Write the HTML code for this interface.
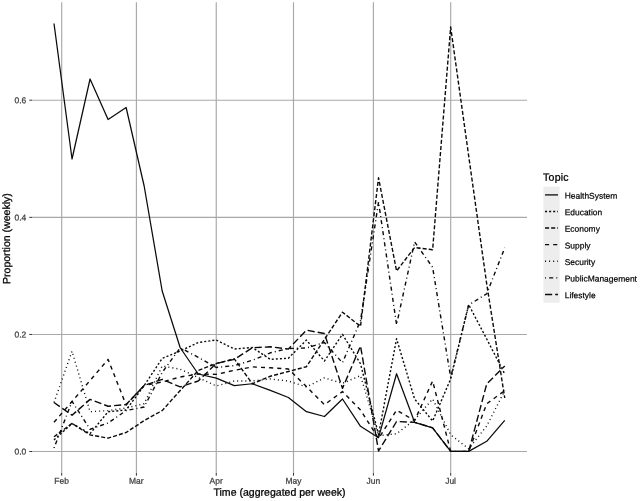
<!DOCTYPE html>
<html><head><meta charset="utf-8"><title>Topic proportions</title>
<style>html,body{margin:0;padding:0;background:#fff}svg{display:block}</style></head>
<body>
<svg width="640" height="501" viewBox="0 0 640 501">
<rect width="640" height="501" fill="#ffffff"/>
<g stroke="#a8a8a8" stroke-width="1.15" fill="none">
<line x1="32.0" y1="451.5" x2="527.0" y2="451.5"/>
<line x1="32.0" y1="334.45" x2="527.0" y2="334.45"/>
<line x1="32.0" y1="217.35" x2="527.0" y2="217.35"/>
<line x1="32.0" y1="100.2" x2="527.0" y2="100.2"/>
<line x1="61.7" y1="2.3" x2="61.7" y2="473.0"/>
<line x1="136.4" y1="2.3" x2="136.4" y2="473.0"/>
<line x1="216.25" y1="2.3" x2="216.25" y2="473.0"/>
<line x1="293.5" y1="2.3" x2="293.5" y2="473.0"/>
<line x1="373.4" y1="2.3" x2="373.4" y2="473.0"/>
<line x1="450.7" y1="2.3" x2="450.7" y2="473.0"/>
</g>
<g stroke="#333333" stroke-width="1.0" fill="none">
<line x1="29.3" y1="451.5" x2="32.0" y2="451.5"/>
<line x1="29.3" y1="334.45" x2="32.0" y2="334.45"/>
<line x1="29.3" y1="217.35" x2="32.0" y2="217.35"/>
<line x1="29.3" y1="100.2" x2="32.0" y2="100.2"/>
<line x1="61.7" y1="473.0" x2="61.7" y2="475.7"/>
<line x1="136.4" y1="473.0" x2="136.4" y2="475.7"/>
<line x1="216.25" y1="473.0" x2="216.25" y2="475.7"/>
<line x1="293.5" y1="473.0" x2="293.5" y2="475.7"/>
<line x1="373.4" y1="473.0" x2="373.4" y2="475.7"/>
<line x1="450.7" y1="473.0" x2="450.7" y2="475.7"/>
</g>
<g stroke="#0a0a0a" stroke-width="1.4" fill="none" stroke-linejoin="round" stroke-linecap="butt">
<polyline points="54.00,23.50 72.03,159.00 90.06,79.00 108.09,119.50 126.12,107.50 144.15,186.00 162.18,291.00 180.21,347.75 198.24,374.00 216.27,378.10 234.30,385.60 252.33,383.75 270.36,390.30 288.39,397.50 306.42,411.70 324.45,416.50 342.48,399.00 360.51,426.30 378.54,437.70 396.57,373.75 414.60,422.30 432.63,427.80 450.66,451.40 468.69,451.40 486.72,441.30 504.75,420.30" stroke-width="1.25"/>
<polyline points="54.00,439.90 72.03,423.50 90.06,433.60 108.09,411.75 126.12,410.00 144.15,385.60 162.18,358.40 180.21,351.00 198.24,342.50 216.27,340.00 234.30,349.00 252.33,347.50 270.36,359.40 288.39,358.20 306.42,340.10 324.45,361.00 342.48,334.30 360.51,363.75 378.54,434.70 396.57,338.75 414.60,399.00 432.63,421.00 450.66,379.00 468.69,304.70 486.72,339.00 504.75,374.00" stroke-dasharray="2.04 2.04"/>
<polyline points="54.00,436.75 72.03,423.40 90.06,434.90 108.09,438.10 126.12,432.50 144.15,420.60 162.18,410.60 180.21,390.50 198.24,370.50 216.27,363.50 234.30,358.80 252.33,383.75 270.36,376.25 288.39,371.50 306.42,366.70 324.45,339.40 342.48,312.20 360.51,326.30 378.54,177.80 396.57,271.00 414.60,247.50 432.63,249.75 450.66,27.00 468.69,156.00 486.72,284.00 504.75,398.00" stroke-dasharray="4.08 2.04"/>
<polyline points="54.00,422.30 72.03,401.50 90.06,380.50 108.09,359.40 126.12,405.00 144.15,385.50 162.18,382.00 180.21,377.00 198.24,374.00 216.27,374.40 234.30,370.30 252.33,366.90 270.36,367.80 288.39,369.00 306.42,386.60 324.45,404.70 342.48,391.60 360.51,410.00 378.54,438.50 396.57,410.25 414.60,420.60 432.63,381.00 450.66,451.40 468.69,451.40 486.72,403.80 504.75,390.60" stroke-dasharray="4.08 4.08"/>
<polyline points="54.00,402.50 72.03,351.25 90.06,411.70 108.09,410.60 126.12,408.00 144.15,403.75 162.18,366.00 180.21,369.20 198.24,377.50 216.27,386.00 234.30,381.00 252.33,381.00 270.36,379.00 288.39,381.00 306.42,387.00 324.45,377.85 342.48,383.40 360.51,375.60 378.54,435.60 396.57,433.80 414.60,419.70 432.63,399.00 450.66,434.70 468.69,448.80 486.72,426.00 504.75,390.60" stroke-dasharray="1.02 3.06"/>
<polyline points="54.00,448.00 72.03,401.40 90.06,429.25 108.09,423.00 126.12,410.60 144.15,407.00 162.18,372.50 180.21,347.75 198.24,357.30 216.27,367.50 234.30,365.60 252.33,360.30 270.36,352.80 288.39,348.50 306.42,348.00 324.45,342.50 342.48,362.80 360.51,320.60 378.54,202.00 396.57,324.70 414.60,241.90 432.63,267.30 450.66,377.50 468.69,305.00 486.72,293.75 504.75,247.80" stroke-dasharray="1.02 3.06 4.08 3.06"/>
<polyline points="54.00,402.50 72.03,415.25 90.06,399.40 108.09,406.25 126.12,404.50 144.15,385.50 162.18,379.40 180.21,386.90 198.24,381.00 216.27,363.50 234.30,359.40 252.33,347.75 270.36,346.80 288.39,349.00 306.42,330.20 324.45,333.50 342.48,388.40 360.51,346.00 378.54,451.00 396.57,421.50 414.60,422.30 432.63,427.80 450.66,451.40 468.69,451.40 486.72,384.00 504.75,366.00" stroke-dasharray="7.14 3.06"/>
</g>
<g text-rendering="geometricPrecision" font-family="Liberation Sans, Arial, Helvetica, sans-serif" font-size="8.45" fill="#404040" stroke="#404040" stroke-width="0.25">
<text x="26.2" y="454.55" transform="rotate(0.05 26.2 454.55)" text-anchor="end">0.0</text>
<text x="26.2" y="337.50" transform="rotate(0.05 26.2 337.50)" text-anchor="end">0.2</text>
<text x="26.2" y="220.40" transform="rotate(0.05 26.2 220.40)" text-anchor="end">0.4</text>
<text x="26.2" y="103.25" transform="rotate(0.05 26.2 103.25)" text-anchor="end">0.6</text>
<text x="61.60" y="483.65" transform="rotate(0.05 61.60 483.65)" text-anchor="middle">Feb</text>
<text x="136.30" y="483.65" transform="rotate(0.05 136.30 483.65)" text-anchor="middle">Mar</text>
<text x="216.15" y="483.65" transform="rotate(0.05 216.15 483.65)" text-anchor="middle">Apr</text>
<text x="293.40" y="483.65" transform="rotate(0.05 293.40 483.65)" text-anchor="middle">May</text>
<text x="373.30" y="483.65" transform="rotate(0.05 373.30 483.65)" text-anchor="middle">Jun</text>
<text x="450.60" y="483.65" transform="rotate(0.05 450.60 483.65)" text-anchor="middle">Jul</text>
</g>
<g text-rendering="geometricPrecision" font-family="Liberation Sans, Arial, Helvetica, sans-serif" font-size="10.56" fill="#000000" stroke="#000000" stroke-width="0.25">
<text x="279.5" y="495.8" transform="rotate(0.05 279.5 495.8)" text-anchor="middle">Time (aggregated per week)</text>
<text transform="translate(10.1,238.6) rotate(-90.05)" text-anchor="middle">Proportion (weekly)</text>
<text x="543.1" y="180.7" letter-spacing="0.2" transform="rotate(0.05 543.4 180.7)">Topic</text>
</g>
<rect x="543.4" y="186.6" width="16.2" height="116.13" fill="#ededed"/>
<g stroke="#0a0a0a" stroke-width="1.4" fill="none">
<line x1="545.02" y1="194.89" x2="557.98" y2="194.89" stroke-width="1.3"/>
<line x1="545.02" y1="211.48" x2="557.98" y2="211.48" stroke-dasharray="2.04 2.04"/>
<line x1="545.02" y1="228.07" x2="557.98" y2="228.07" stroke-dasharray="4.08 2.04"/>
<line x1="545.02" y1="244.66" x2="557.98" y2="244.66" stroke-dasharray="4.08 4.08"/>
<line x1="545.02" y1="261.25" x2="557.98" y2="261.25" stroke-dasharray="1.02 3.06"/>
<line x1="545.02" y1="277.85" x2="557.98" y2="277.85" stroke-dasharray="1.02 3.06 4.08 3.06"/>
<line x1="545.02" y1="294.44" x2="557.98" y2="294.44" stroke-dasharray="7.14 3.06"/>
</g>
<g text-rendering="geometricPrecision" font-family="Liberation Sans, Arial, Helvetica, sans-serif" font-size="8.45" fill="#000000" stroke="#000000" stroke-width="0.2">
<text x="564.7" y="198.64" transform="rotate(0.05 564.7 198.64)">HealthSystem</text>
<text x="564.7" y="215.23" transform="rotate(0.05 564.7 215.23)">Education</text>
<text x="564.7" y="231.82" transform="rotate(0.05 564.7 231.82)">Economy</text>
<text x="564.7" y="248.41" transform="rotate(0.05 564.7 248.41)">Supply</text>
<text x="564.7" y="265.00" transform="rotate(0.05 564.7 265.00)">Security</text>
<text x="564.7" y="281.60" transform="rotate(0.05 564.7 281.60)">PublicManagement</text>
<text x="564.7" y="298.19" transform="rotate(0.05 564.7 298.19)">Lifestyle</text>
</g>
</svg>
</body></html>
